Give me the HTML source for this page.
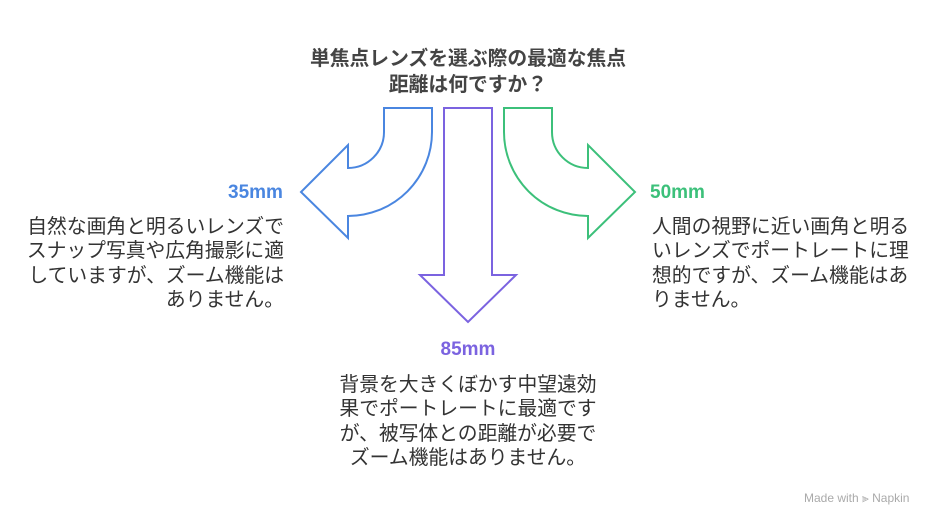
<!DOCTYPE html>
<html><head><meta charset="utf-8"><style>
body{margin:0;width:936px;height:526px;background:#fff;position:relative;overflow:hidden;font-family:"Liberation Sans","Noto Sans CJK JP",sans-serif;}
.t{position:absolute;white-space:nowrap;}
.body{font-size:19.8px;line-height:24.4px;color:#333;}
</style></head><body>
<svg width="936" height="526" style="position:absolute;left:0;top:0" fill="none" stroke-width="2" stroke-linejoin="miter">
<path d="M384 108 H432 V132 A84 84 0 0 1 348 216 V238 L301 192 L348 145 V168 A36 36 0 0 0 384 132 Z" stroke="#4a86e0"/>
<path d="M444 108 H492 V275 H516 L468 322 L420 275 H444 Z" stroke="#7b63e0"/>
<path d="M552 108 H504 V132 A84 84 0 0 0 588 216 V238 L635 192 L588 145 V168 A36 36 0 0 1 552 132 Z" stroke="#3cc07a"/>
</svg>
<div class="t" style="left:0;width:936px;top:46px;text-align:center;font-size:19.8px;font-weight:bold;line-height:26px;color:#444;">単焦点レンズを選ぶ際の最適な焦点<br>距離は何ですか？</div>
<div class="t" style="left:228px;top:182px;font-size:19px;font-weight:bold;color:#4a86e0;">35mm</div>
<div class="t body" style="right:652px;top:215px;text-align:right;">自然な画角と明るいレンズで<br>スナップ写真や広角撮影に適<br>していますが、ズーム機能は<br>ありません。</div>
<div class="t" style="left:650px;top:182px;font-size:19px;font-weight:bold;color:#3cc07a;">50mm</div>
<div class="t body" style="left:652px;top:215px;">人間の視野に近い画角と明る<br>いレンズでポートレートに理<br>想的ですが、ズーム機能はあ<br>りません。</div>
<div class="t" style="left:0;width:936px;text-align:center;top:339px;font-size:19px;font-weight:bold;color:#7b63e0;">85mm</div>
<div class="t body" style="left:0;width:936px;text-align:center;top:373px;">背景を大きくぼかす中望遠効<br>果でポートレートに最適です<br>が、被写体との距離が必要で<br>ズーム機能はありません。</div>
<div class="t" style="left:804px;top:491px;font-size:12px;color:#aaa;">Made with ⫸ Napkin</div>
</body></html>
